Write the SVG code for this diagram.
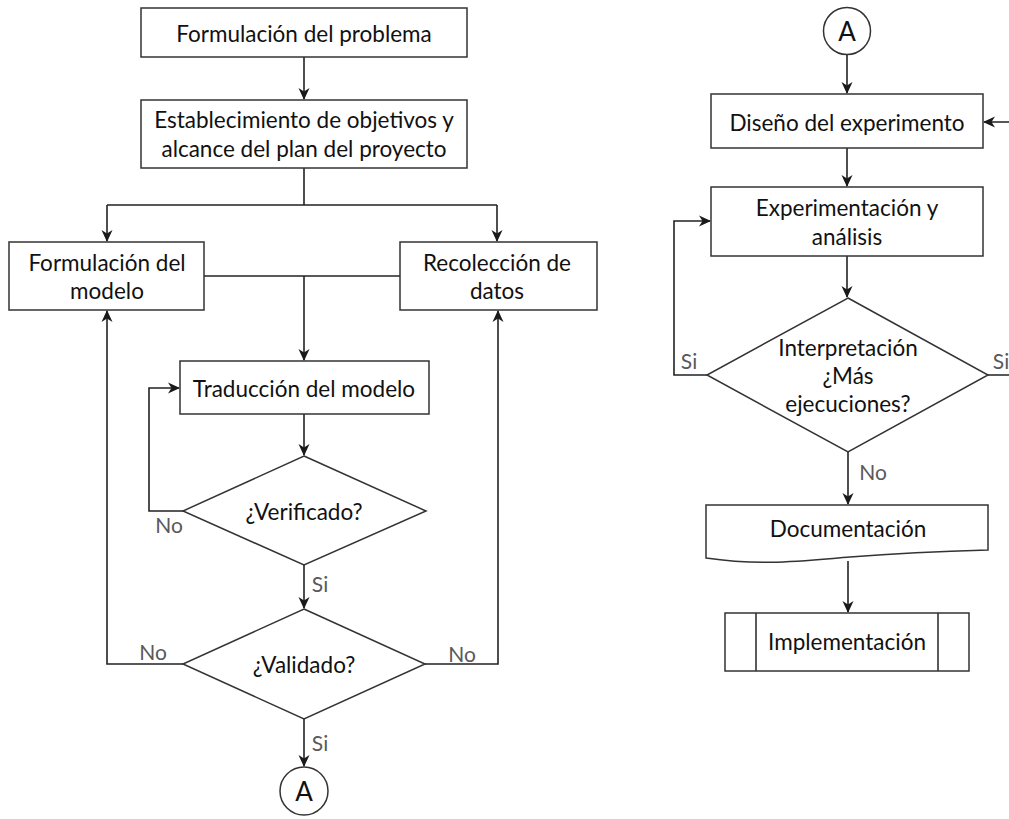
<svg xmlns="http://www.w3.org/2000/svg" width="1009" height="819" viewBox="0 0 1009 819">
<defs>
<marker id="arr" markerUnits="userSpaceOnUse" markerWidth="12" markerHeight="12" viewBox="0 0 12 12" refX="11" refY="6" orient="auto">
<path d="M0,0.5 L12,6 L0,11.5 L3.5,6 z" fill="#1a1a1a"/>
</marker>
<style>
.box{fill:#fff;stroke:#333;stroke-width:1.5}
.t{font-family:Lato,"Open Sans",sans-serif;font-size:22.5px;fill:#111;text-anchor:middle;dominant-baseline:central}
.l{font-family:Lato,"Open Sans",sans-serif;font-size:21px;fill:#595959;text-anchor:middle;dominant-baseline:central}
.c{fill:none;stroke:#222;stroke-width:1.6}
.a{marker-end:url(#arr)}
</style>
</defs>
<rect width="1009" height="819" fill="#fff"/>
<g id="connectors">
<path class="c a" d="M304,57 V99"/>
<path class="c" d="M304,168 V205 M107,205 H497"/>
<path class="c a" d="M107,205 V241"/>
<path class="c a" d="M497,205 V241"/>
<path class="c" d="M204,276 H400"/>
<path class="c a" d="M304,276 V360"/>
<path class="c a" d="M304,414 V455"/>
<path class="c a" d="M183,511 H149 V388 H179"/>
<path class="c a" d="M304,565 V608"/>
<path class="c a" d="M183,664 H107 V311"/>
<path class="c a" d="M425,664 H498 V311"/>
<path class="c a" d="M304,719 V766"/>
<path class="c a" d="M847,54 V93"/>
<path class="c a" d="M847,148 V186"/>
<path class="c a" d="M847,256 V297"/>
<path class="c a" d="M707,375 H674 V221 H710"/>
<path class="c a" d="M988,375 H1030 V122 H984"/>
<path class="c a" d="M848,452 V504"/>
<path class="c a" d="M848,561 V612"/>
</g>
<g id="lbl-no1"><text class="l" x="169" y="524">No</text></g>
<g id="lbl-si1"><text class="l" x="320" y="583">Si</text></g>
<g id="lbl-no2"><text class="l" x="153" y="651">No</text></g>
<g id="lbl-no3"><text class="l" x="462" y="653">No</text></g>
<g id="lbl-si2"><text class="l" x="320" y="742">Si</text></g>
<g id="lbl-si3"><text class="l" x="689" y="360">Si</text></g>
<g id="lbl-si4"><text class="l" x="1001" y="360">Si</text></g>
<g id="lbl-no4"><text class="l" x="873" y="471">No</text></g>
<g id="n-problema"><rect class="box" x="141" y="8" width="326" height="49"/><text class="t" x="304" y="33">Formulación del problema</text></g>
<g id="n-objetivos"><rect class="box" x="141" y="100" width="326" height="68"/><text class="t" x="304" y="119">Establecimiento de objetivos y</text><text class="t" x="304" y="148">alcance del plan del proyecto</text></g>
<g id="n-modelo"><rect class="box" x="9" y="242" width="195" height="68"/><text class="t" x="107" y="262">Formulación del</text><text class="t" x="107" y="290">modelo</text></g>
<g id="n-datos"><rect class="box" x="400" y="242" width="197" height="68"/><text class="t" x="497" y="262">Recolección de</text><text class="t" x="497" y="290">datos</text></g>
<g id="n-traduccion"><rect class="box" x="180" y="361" width="249" height="53"/><text class="t" x="304" y="388">Traducción del modelo</text></g>
<g id="n-verificado"><path class="box" d="M304,456 L426,511 L304,565 L183,511 z"/><text class="t" x="304" y="511">¿Verificado?</text></g>
<g id="n-validado"><path class="box" d="M304,609 L425,664 L304,719 L183,664 z"/><text class="t" x="304" y="664">¿Validado?</text></g>
<g id="n-a1"><circle class="box" cx="304" cy="791" r="24"/><text class="t" x="304" y="791" style="font-size:26px">A</text></g>
<g id="n-a2"><circle class="box" cx="847" cy="31" r="23.5"/><text class="t" x="847" y="31" style="font-size:26px">A</text></g>
<g id="n-diseno"><rect class="box" x="711" y="94" width="272" height="54"/><text class="t" x="847" y="122">Diseño del experimento</text></g>
<g id="n-experimentacion"><rect class="box" x="711" y="187" width="272" height="69"/><text class="t" x="847" y="207">Experimentación y</text><text class="t" x="847" y="236">análisis</text></g>
<g id="n-interpretacion"><path class="box" d="M848,298 L988,375 L848,452 L707,375 z"/><text class="t" x="848" y="347">Interpretación</text><text class="t" x="848" y="375">¿Más</text><text class="t" x="848" y="403">ejecuciones?</text></g>
<g id="n-documentacion"><path class="box" d="M706,505 H988 V550 C950,551 900,553 850,557 C800,561 760,566 706,558 z"/><text class="t" x="848" y="528">Documentación</text></g>
<g id="n-implementacion"><rect class="box" x="725" y="613" width="244" height="58"/><path class="c" d="M756,613 V671 M938,613 V671" style="stroke:#333"/><text class="t" x="847" y="641">Implementación</text></g>
</svg>
